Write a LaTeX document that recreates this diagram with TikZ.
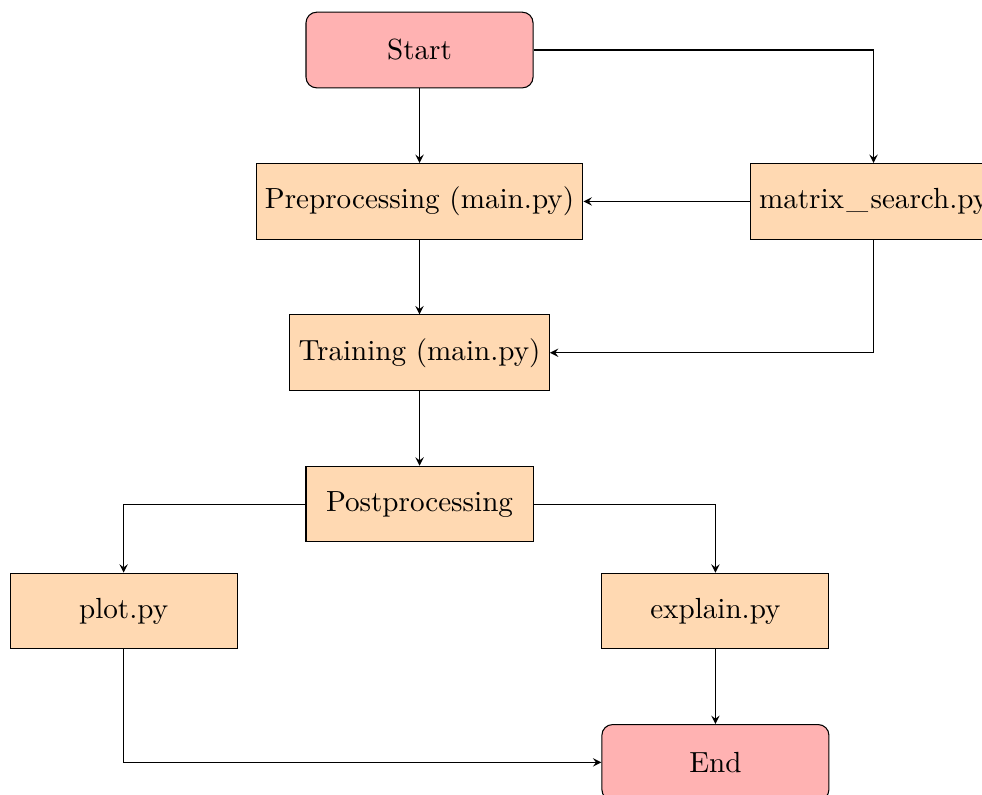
\documentclass[tikz,border=0pt]{standalone}
\usetikzlibrary{arrows.meta}
\begin{document}
\begin{tikzpicture}[
  >=stealth,
  box/.style={draw, minimum width=3cm, minimum height=1cm, align=center, font=\fontsize{10.95}{13.6}\selectfont},
  terminal/.style={box, rounded corners, fill=red!30},
  process/.style={box, fill=orange!30},
  link/.style={draw, ->}
]
\useasboundingbox (-5.544,0.661) rectangle (7.433,-9.834);

\node[terminal] (start) at (0,0) {Start};
\node[process] (pre) at (0,-2) {Preprocessing (main.py)};
\node[process] (msearch) at (6,-2) {matrix\kern.08em\_\kern.08em search.py};
\node[process] (train) at (0,-4) {Training (main.py)};
\node[process] (post) at (0,-6) {Postprocessing};
\node[process] (plot) at (-3.91,-7.414) {plot.py};
\node[process] (explain) at (3.91,-7.414) {explain.py};
\node[terminal] (end) at (3.91,-9.414) {End};

\path[link] (start) -- (pre);
\path[link] (start.east) -| (msearch.north);
\path[link] (msearch.west) -- (pre.east);
\path[link] (pre) -- (train);
\path[link] (msearch.south) |- (train.east);
\path[link] (train) -- (post);
\path[link] (post.west) -| (plot.north);
\path[link] (post.east) -| (explain.north);
\path[link] (plot.south) |- (end.west);
\path[link] (explain) -- (end);
\end{tikzpicture}
\end{document}
